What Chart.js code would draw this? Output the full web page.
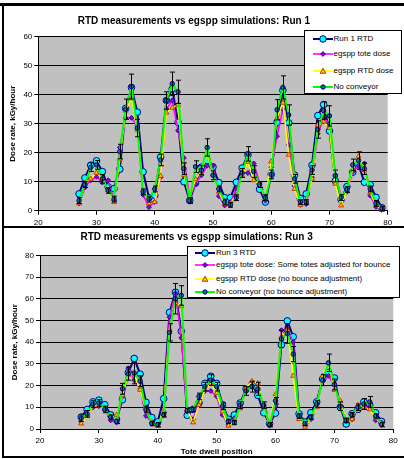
<!DOCTYPE html>
<html><head><meta charset="utf-8">
<script src="https://cdn.jsdelivr.net/npm/chart.js@4.4.0/dist/chart.umd.min.js"></script>
<style>
html,body{margin:0;padding:0;background:#fff;}
body{width:404px;height:459px;position:relative;overflow:hidden;font-family:'Liberation Sans',Arial,sans-serif;}
canvas{position:absolute;left:0;}
#c1{top:0px;}
#c2{top:228px;}
.bar{position:absolute;background:#000;z-index:5;}
.legend{position:absolute;background:#fff;border:1px solid #000;box-sizing:border-box;font-size:8px;color:#000;z-index:4;}
.legend .item{position:absolute;left:0;height:10px;white-space:nowrap;}
.legend .item svg{position:absolute;top:0;}
.legend .item span{position:absolute;top:0;line-height:10px;}
</style></head>
<body>
<canvas id="c1" width="404" height="226"></canvas>
<canvas id="c2" width="404" height="229"></canvas>
<div class="bar" style="left:0;top:3px;width:404px;height:3px;"></div>
<div class="bar" style="left:2px;top:3px;width:2px;height:455px;"></div>
<div class="bar" style="left:2px;top:226px;width:402px;height:2px;"></div>
<div class="bar" style="left:2px;top:456px;width:402px;height:2px;"></div>
<div id="leg1" class="legend" style="left:304px;top:30px;width:98px;height:64px;"></div>
<div id="leg2" class="legend" style="left:187px;top:246px;width:213px;height:52px;"></div>
<script>
// ---------- DATA ----------
const titles = ['RTD measurements vs egspp simulations: Run 1', 'RTD measurements vs egspp simulations: Run 3'];
const yAxisTitle = 'Dose rate, kGy/hour';
const xAxisTitle = 'Tote dwell position';

const run1Labels = ['Run 1 RTD', 'egspp tote dose', 'egspp RTD dose', 'No conveyor'];
const run3Labels = ['Run 3 RTD', 'egspp tote dose: Some totes adjusted for bounce', 'egspp RTD dose (no bounce adjustment)', 'No conveyor (no bounce adjustment)'];

const run1Positions = [27,28,29,30,31,32,33,34,35,36,37,38,39,40,41,42,43,44,45,46,47,48,49,50,51,52,53,54,55,56,57,58,59,60,61,62,63,64,65,66,67,68,69,70,71,72,73,74,75,76,77,78,79];
const run1RTD      = [5.8,11.3,15.7,17.2,13.5,8.2,7.6,14.3,35.3,42.5,34,13.4,4.5,5.3,18.5,38,42,30.5,10,3.5,9.5,15,17.3,15.1,9.7,4.5,4.5,9.8,14.7,19.3,12.5,7.4,3,12.5,30.5,41.5,30.3,12.3,4.2,5.8,15.7,32.8,36.6,27.5,10.3,3.8,8.3,13.3,15.8,9.8,9,4.6,1];
const run1ToteDose = [2.5,8,10.5,11.7,9.7,10.5,3.5,21.8,32,32,29.5,5.5,1.2,3,11.5,35,38,27.6,18.2,4.5,9.2,12.2,15.5,15.6,5,1.8,3,7.5,13,13,16.3,9.5,3.5,15,25.7,35,22.7,8.5,2,2.3,11.5,26.5,32,30,12.5,5,6.5,13.5,15.6,16.3,5.2,1.3,0.3];
const run1RTDDose  = [2.5,9.5,11,13,11,7,3,17.9,34.5,38.7,28,7,2.5,3,12,33.8,35.5,36.5,12.3,5,10.8,13.7,19.5,12.5,6.5,2.2,2.5,5.5,12.2,16.8,10.5,9,4,17,32,37.2,19.3,7.5,2,3.5,11,29.5,30.7,28.5,9.3,1.8,7,14.3,18.7,14,6.3,2,0.2];
const run1NoConv   = [3.5,9,15,15.8,11,7,4,20.4,35,42.8,28.5,6.5,4,7.5,17.5,38,43.8,41,14.5,3.5,15.2,14,21.8,12.2,7.5,3,2,4.5,13,19.6,13.5,9,4.5,12.5,34.8,42.5,33,11,3,3,14,28,34.5,32.7,12,4.5,7.3,15.8,17.3,14.5,7.5,2.5,0.8];
const run1NoConvErr= [1,1,1.5,1.5,1.5,1,1,2.5,3.5,4.3,3,1,1,1,2,3,4,4,2,1,2,1.5,3,1.5,1,1,0.8,1,1.5,2.5,2,1,1,1.5,3.5,4,3.5,1.5,0.8,0.8,1.5,3,3,3.5,2,1,1,2,3,2,1,1,0.8];

const run3Positions = [27,28,29,30,31,32,33,34,35,36,37,38,39,40,41,42,43,44,45,46,47,48,49,50,51,52,53,54,55,56,57,58,59,60,61,62,63,64,65,66,67,68,69,70,71,72,73,74,75,76,77,78];
const run3RTD      = [5.5,9,12.5,13.3,11.2,6.5,4.5,13.5,26,32.5,25.3,12.3,5.3,3.3,14,53.7,63,45,6.3,9,12,21,24.3,21,11.2,4.5,6.5,12,18.5,20.5,15.5,7.5,2.5,7.3,38.8,49.8,42.5,7,3.2,7.5,12.5,23,26,23.5,10,2.3,7,9,12.5,11,7.5,3.5];
const run3ToteDose = [3.5,6.5,10,10.5,9.5,4,3,15,28,22.5,18.5,6,3,2,6.8,51.5,62.5,42,8,4.5,12,17.5,17.5,15,6.5,2,5,10,18,20,17.5,10.5,1.5,10.5,45.5,46,40,5,1.5,4.5,11.5,22,24.5,20,10.5,3.5,4.5,10.5,10.5,10.5,4,3];
const run3RTDDose  = [2.5,6,10.5,11,9,5,6.5,15.5,25,25,18,9,3,1.5,8.5,46,58,56.5,9,3,11,18,21,16.5,8,1.5,4,9.5,19,22,21,9.5,2.5,16,42.5,45.5,24.5,4.5,1,5,10,24.5,30.5,18,13,3.5,4.5,11,10,9,5,2.5];
const run3NoConv   = [5,7,11.5,12,9,5.5,3.5,18.5,25.5,25.8,22,9,2.5,2,6.5,44.5,60,61.5,8.5,9,15,19.5,22.5,19.5,10.5,3.5,3,11,17.5,19.5,18.5,11,2,13,41.5,44,34.5,6,2.5,5.5,11.5,22.5,30.5,20.5,10.5,4,6.5,10,11.5,12.5,6,2];
const run3NoConvErr= [1.5,1.5,1.5,1.5,1.5,1,1,2.5,3,5,2.5,1.5,1,1,1,4,7,4.5,1,1,1.5,2,2.5,2,1.5,1,1,1.5,2,2.5,3,1.5,1,1.5,4,4.5,3.5,1,1,1,1.5,2.5,4,2.5,2,1,1,1.5,2.5,2.5,1,1];

// ---------- STYLES ----------
const seriesStyles = [
  {line:'#000080', width:2,   style:'circle',   radius:3.3, bg:'#00FFFF', border:'#000080', order:4},
  {line:'#FF00FF', width:1.6, style:'rectRot',  radius:2.4, bg:'#9900CC', border:'#330099', order:3},
  {line:'#FFFF00', width:1.6, style:'triangle', radius:2.8, bg:'#FFCC00', border:'#CC3300', order:2},
  {line:'#00FF00', width:2,   style:'circle',   radius:2.2, bg:'#008080', border:'#000080', order:1}
];
const FONT = "'Liberation Sans', Arial, sans-serif";

const plotBg = {
  id:'plotBg',
  beforeDraw(chart){
    const a = chart.chartArea, ctx = chart.ctx;
    ctx.save(); ctx.fillStyle = '#C0C0C0';
    ctx.fillRect(a.left, a.top, a.right - a.left, a.bottom - a.top);
    ctx.restore();
  }
};
const errBars = {
  id:'errBars',
  afterDatasetsDraw(chart, args, opts){
    const ds = chart.data.datasets[opts.index];
    const xs = chart.scales.x, ys = chart.scales.y, ctx = chart.ctx;
    ctx.save(); ctx.strokeStyle = '#000'; ctx.lineWidth = 1;
    ds.data.forEach((p, i) => {
      const e = opts.err[i];
      const px = Math.round(xs.getPixelForValue(p.x)) + 0.5;
      const t = ys.getPixelForValue(p.y + e), b = ys.getPixelForValue(Math.max(0, p.y - e));
      ctx.beginPath();
      ctx.moveTo(px, t); ctx.lineTo(px, b);
      ctx.moveTo(px - 2.5, t); ctx.lineTo(px + 2.5, t);
      ctx.moveTo(px - 2.5, b); ctx.lineTo(px + 2.5, b);
      ctx.stroke();
    });
    ctx.restore();
  }
};

function makeDatasets(labels, positions, series){
  return series.map((vals, k) => {
    const s = seriesStyles[k];
    return {
      label: labels[k],
      data: positions.map((x, i) => ({x: x, y: vals[i]})),
      borderColor: s.line, borderWidth: s.width,
      pointStyle: s.style, pointRadius: s.radius,
      pointBackgroundColor: s.bg, pointBorderColor: s.border, pointBorderWidth: 1,
      tension: 0, order: s.order, clip: false
    };
  });
}

function makeChart(id, o){
  return new Chart(document.getElementById(id), {
    type: 'line',
    data: { datasets: makeDatasets(o.labels, o.positions, o.series) },
    plugins: [plotBg, errBars],
    options: {
      responsive: false, animation: false, devicePixelRatio: 1,
      layout: { padding: { left: 0, right: o.padRight, top: 0, bottom: 0 } },
      plugins: {
        legend: { display: false },
        tooltip: { enabled: false },
        title: { display: true, text: o.title, color: '#000',
                 font: { family: FONT, size: 10, weight: 'bold', lineHeight: 1.2 },
                 padding: { top: o.titleTop, bottom: o.titleBottom } },
        errBars: { index: 3, err: o.err }
      },
      scales: {
        x: {
          type: 'linear', min: 20, max: 80,
          afterFit: s => { s.height = o.xHeight; },
          ticks: { stepSize: 10, color: '#000', padding: o.xTickPad, maxRotation: 0,
                   font: { family: FONT, size: 8 } },
          grid: { display: true, drawOnChartArea: false, drawTicks: true, tickLength: 4, color: '#000' },
          border: { display: true, color: '#000', width: 1 },
          title: o.xTitle ? { display: true, text: o.xTitle, color: '#000',
                   font: { family: FONT, size: 8, weight: 'bold', lineHeight: 1.2 },
                   padding: { top: 0, bottom: 0.5 } } : { display: false }
        },
        y: {
          min: 0, max: o.yMax,
          afterFit: s => { s.width = o.yWidth; },
          ticks: { stepSize: 10, color: '#000', padding: 2,
                   font: { family: FONT, size: 8 } },
          grid: { color: '#000', lineWidth: 1, drawTicks: true, tickLength: 4 },
          border: { display: true, color: '#000', width: 1 },
          title: { display: true, text: yAxisTitle, color: '#000',
                   font: { family: FONT, size: 8, weight: 'bold', lineHeight: 1.2 },
                   padding: { top: o.yTitlePad, bottom: 0 } }
        }
      }
    }
  });
}

makeChart('c1', {
  labels: run1Labels, positions: run1Positions,
  series: [run1RTD, run1ToteDose, run1RTDDose, run1NoConv], err: run1NoConvErr,
  title: titles[0], titleTop: 15.2, titleBottom: 9.5,
  yMax: 60, yWidth: 38.3, yTitlePad: 8.2, padRight: 16.3,
  xHeight: 15.3, xTickPad: 3, xTitle: null
});
makeChart('c2', {
  labels: run3Labels, positions: run3Positions,
  series: [run3RTD, run3ToteDose, run3RTDDose, run3NoConv], err: run3NoConvErr,
  title: titles[1], titleTop: 3.3, titleBottom: 12,
  yMax: 80, yWidth: 40, yTitlePad: 10.2, padRight: 10.7,
  xHeight: 28, xTickPad: 3, xTitle: xAxisTitle
});

// ---------- HTML legends ----------
function markerSvg(k){
  const s = seriesStyles[k];
  let m = '';
  if (s.style === 'circle') m = `<circle cx="10" cy="5" r="${s.radius}" fill="${s.bg}" stroke="${s.border}" stroke-width="1"/>`;
  else if (s.style === 'rectRot') { const r = s.radius; m = `<polygon points="10,${5-r} ${10+r},5 10,${5+r} ${10-r},5" fill="${s.bg}" stroke="${s.border}" stroke-width="1"/>`; }
  else { const r = s.radius; m = `<polygon points="10,${5-r} ${10+r},${5+r*0.8} ${10-r},${5+r*0.8}" fill="${s.bg}" stroke="${s.border}" stroke-width="1"/>`; }
  return `<svg width="20" height="10" viewBox="0 0 20 10"><line x1="0" y1="5" x2="20" y2="5" stroke="${s.line}" stroke-width="${s.width}"/>${m}</svg>`;
}
function buildLegend(id, labels, ys, lineX, textX){
  const el = document.getElementById(id);
  labels.forEach((t, k) => {
    const it = document.createElement('div');
    it.className = 'item';
    it.style.top = (ys[k] - 5) + 'px';
    it.innerHTML = markerSvg(k).replace('<svg ', `<svg style="left:${lineX}px" `) + `<span style="left:${textX}px">${t}</span>`;
    el.appendChild(it);
  });
}
buildLegend('leg1', run1Labels, [8, 23, 39.7, 55.7], 8.3, 28.5);
buildLegend('leg2', run3Labels, [5.7, 18, 32, 44.7], 7.3, 28);
</script>
</body></html>
